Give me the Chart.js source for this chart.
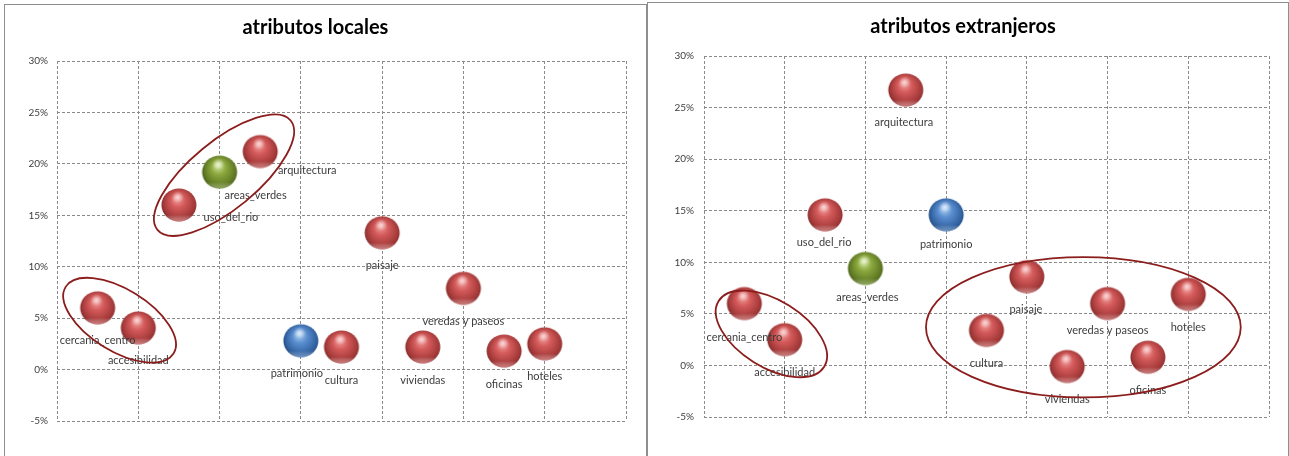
<!DOCTYPE html>
<html>
<head>
<meta charset="utf-8">
<script src="https://cdn.jsdelivr.net/npm/chart.js@4.4.1/dist/chart.umd.min.js"></script>
<style>
  html, body { margin: 0; padding: 0; background: #fff; }
  body { width: 1289px; height: 456px; position: relative; overflow: hidden; }
  .panel { position: absolute; border: 1px solid #8e8e8e; background: #fff; }
  #panelLocal { left: 4px; top: 4px; width: 641px; height: 470px; }
  #panelExt { left: 647px; top: 2px; width: 640px; height: 470px; }
  .panel canvas { position: absolute; left: 0; top: 0; }
</style>
</head>
<body>
<div class="panel" id="panelLocal"><canvas id="chartLocal" width="641" height="452"></canvas></div>
<div class="panel" id="panelExt"><canvas id="chartExt" width="640" height="454"></canvas></div>
<script>
// categories (same order in both charts)
const attributes = ['cercania_centro', 'accesibilidad', 'uso_del_rio', 'areas_verdes', 'arquitectura',
    'patrimonio', 'cultura', 'paisaje', 'viviendas', 'veredas y paseos', 'oficinas', 'hoteles'];
const xPositions = [1, 2, 3, 4, 5, 6, 7, 8, 9, 10, 11, 12];
const sphereKind = ['red', 'red', 'red', 'green', 'red', 'blue', 'red', 'red', 'red', 'red', 'red', 'red'];

// values in %
const localValues = [6.0, 4.05, 16.0, 19.2, 21.2, 2.8, 2.2, 13.3, 2.2, 7.9, 1.8, 2.5];
const foreignValues = [6.0, 2.5, 14.6, 9.4, 26.7, 14.6, 3.4, 8.6, -0.1, 6.0, 0.8, 6.9];

// axes
const yMin = -5, yMax = 30, yStep = 5;
const xMin = 0, xMax = 14, xStep = 2;

// label placement relative to the bubble (px)
const localLabelShift = [[0, 33], [0, 33], [52, 12], [36, 23], [47, 19], [-4, 33],
    [0, 34], [0, 33], [0, 34], [0, 33], [0, 33], [0, 33]];
const foreignLabelShift = [[0, 34], [0, 33], [-1, 28], [2, 29], [-2, 32], [0, 30],
    [0, 33], [-1, 33], [0, 33], [0, 27], [0, 33], [0, 33]];

// hand drawn rings (centre in data units, radii in x units / % units, angle in degrees)
const localRings = [
    { x: 4.11, y: 18.9, rx: 2.12, ry: 3.3, angle: -39.4 },
    { x: 1.54, y: 4.8, rx: 1.56, ry: 3.0, angle: 31.7 }
];
const foreignRings = [
    { x: 1.67, y: 3.06, rx: 1.54, ry: 3.23, angle: 31.9 },
    { x: 9.40, y: 3.7, rx: 3.9, ry: 6.8, angle: 0 }
];

const palettes = {
    red:   { light: '#f2a0a0', mid: '#d45a5a', dark: '#a23838', deep: '#621c1c', rim: 'rgba(250,160,160,0.7)' },
    green: { light: '#cfe39a', mid: '#8ba83e', dark: '#5e7822', deep: '#34450f', rim: 'rgba(200,230,140,0.6)' },
    blue:  { light: '#afcff2', mid: '#5a8ecf', dark: '#30609e', deep: '#193661', rim: 'rgba(160,200,250,0.6)' }
};

function makeSphere(p) {
    const w = 38, h = 36;
    const c = document.createElement('canvas');
    c.width = w; c.height = h;
    const g = c.getContext('2d');
    const cx = w / 2, cy = h / 2;
    g.save();
    g.beginPath();
    g.ellipse(cx, cy, 17.5, 16.5, 0, 0, Math.PI * 2);
    g.clip();
    let grad = g.createRadialGradient(cx - 2, cy - 7, 1, cx + 1, cy, 21);
    grad.addColorStop(0, p.light);
    grad.addColorStop(0.32, p.mid);
    grad.addColorStop(0.74, p.dark);
    grad.addColorStop(1, p.deep);
    g.fillStyle = grad;
    g.fillRect(0, 0, w, h);
    // reflection on the lower edge
    grad = g.createLinearGradient(0, cy + 10, 0, h);
    grad.addColorStop(0, 'rgba(255,255,255,0)');
    grad.addColorStop(1, p.rim);
    g.fillStyle = grad;
    g.fillRect(0, cy + 10, w, h);
    // soft specular spot
    grad = g.createRadialGradient(cx - 1, cy - 8, 0, cx - 1, cy - 8, 6);
    grad.addColorStop(0, 'rgba(255,255,255,0.6)');
    grad.addColorStop(1, 'rgba(255,255,255,0)');
    g.fillStyle = grad;
    g.fillRect(0, 0, w, h);
    g.restore();
    return c;
}

const sphereImages = {
    red: makeSphere(palettes.red),
    green: makeSphere(palettes.green),
    blue: makeSphere(palettes.blue)
};

function labelsPlugin(shift) {
    return {
        id: 'pointLabels',
        afterDatasetsDraw(chart) {
            const ctx = chart.ctx;
            const meta = chart.getDatasetMeta(0);
            ctx.save();
            ctx.font = '11px Lato';
            ctx.fillStyle = '#3c3c3c';
            ctx.textAlign = 'center';
            ctx.textBaseline = 'middle';
            meta.data.forEach((pt, i) => {
                ctx.fillText(attributes[i], pt.x + shift[i][0], pt.y + shift[i][1]);
            });
            ctx.restore();
        }
    };
}

function ringsPlugin(rings) {
    return {
        id: 'rings',
        afterDatasetsDraw(chart) {
            const { ctx, scales: { x, y } } = chart;
            const ppx = x.getPixelForValue(1) - x.getPixelForValue(0);
            const ppy = y.getPixelForValue(0) - y.getPixelForValue(1);
            ctx.save();
            ctx.strokeStyle = '#8c1d1d';
            ctx.lineWidth = 1.8;
            rings.forEach(r => {
                ctx.beginPath();
                ctx.ellipse(x.getPixelForValue(r.x), y.getPixelForValue(r.y),
                    r.rx * ppx, r.ry * ppy, r.angle * Math.PI / 180, 0, Math.PI * 2);
                ctx.stroke();
            });
            ctx.restore();
        }
    };
}

function buildChart(canvasId, title, values, shift, rings, box) {
    const ctx = document.getElementById(canvasId).getContext('2d');
    return new Chart(ctx, {
        type: 'scatter',
        data: {
            datasets: [{
                data: values.map((v, i) => ({ x: xPositions[i], y: v })),
                pointStyle: sphereKind.map(k => sphereImages[k]),
                pointRadius: 18,
                pointHoverRadius: 18
            }]
        },
        options: {
            responsive: false,
            animation: false,
            layout: { padding: { left: 0, right: box.right, top: 0, bottom: box.bottom } },
            scales: {
                x: {
                    type: 'linear',
                    min: xMin, max: xMax,
                    ticks: { display: false, stepSize: xStep },
                    grid: { color: '#8a8a8a', lineWidth: 1, drawTicks: false },
                    border: { display: false, dash: [3, 2] },
                    afterFit(scale) { scale.height = 0; }
                },
                y: {
                    min: yMin, max: yMax,
                    ticks: {
                        stepSize: yStep,
                        padding: box.tickPad,
                        color: '#404040',
                        font: { family: 'Lato', size: 10 },
                        callback: v => v + '%'
                    },
                    grid: { color: '#8a8a8a', lineWidth: 1, drawTicks: false },
                    border: { display: false, dash: [3, 2] },
                    afterFit(scale) { scale.width = box.left; }
                }
            },
            plugins: {
                legend: { display: false },
                tooltip: { enabled: false },
                title: {
                    display: true,
                    text: title,
                    color: '#000',
                    font: { family: 'Lato', size: 20, weight: 'bold' },
                    padding: { top: box.titleTop, bottom: box.titleGap }
                }
            }
        },
        plugins: [labelsPlugin(shift), ringsPlugin(rings)]
    });
}

buildChart('chartLocal', 'atributos locales', localValues, localLabelShift, localRings,
    { left: 52, right: 20, bottom: 36, tickPad: 9, titleTop: 11, titleGap: 21 });
buildChart('chartExt', 'atributos extranjeros', foreignValues, foreignLabelShift, foreignRings,
    { left: 56, right: 10, bottom: 40, tickPad: 10, titleTop: 12, titleGap: 17 });
</script>
</body>
</html>
